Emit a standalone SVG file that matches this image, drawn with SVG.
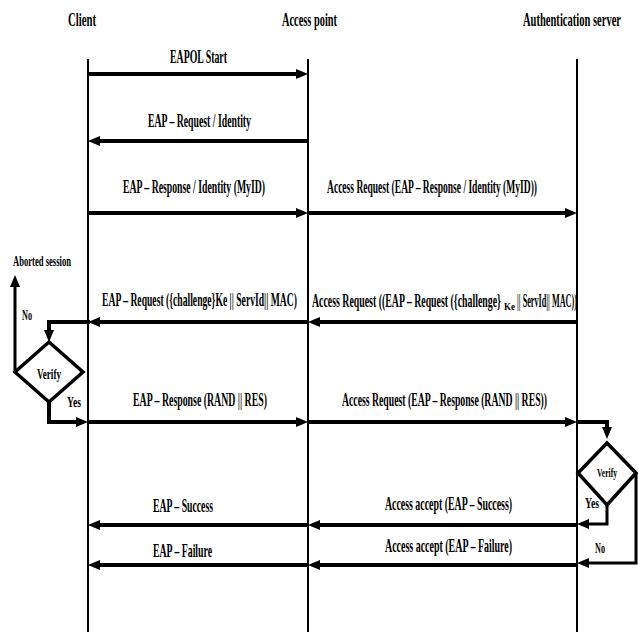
<svg xmlns="http://www.w3.org/2000/svg" width="638" height="632" viewBox="0 0 638 632">
<style>
text{font-family:"Liberation Serif","Times New Roman",serif;font-weight:bold;fill:#000;text-anchor:middle;font-size:18px}
.sm{font-size:14px}
.xs{font-size:12px}
.sub{font-size:10px;text-anchor:start}
.st{text-anchor:start}
.life{stroke:#000;stroke-width:2;fill:none}
.msg{stroke:#000;stroke-width:4;fill:none}
.flow{stroke:#000;stroke-width:3;fill:none}
.dia{stroke:#000;stroke-width:3.5;fill:#fff;stroke-linejoin:miter}
</style>
<defs>
<marker id="ah" viewBox="0 0 12 10" refX="5" refY="5" markerWidth="12" markerHeight="10" markerUnits="userSpaceOnUse" orient="auto">
<path d="M0,0 L12,5 L0,10 z" fill="#000"/>
</marker>
</defs>
<rect width="638" height="632" fill="#fff"/>

<g id="client">
<text transform="translate(82,26) scale(0.59,1)" textLength="47.5" lengthAdjust="spacingAndGlyphs">Client</text>
<line class="life" x1="88" y1="59" x2="88" y2="632"/>
</g>
<g id="access-point">
<text transform="translate(309.5,26) scale(0.59,1)" textLength="93.2" lengthAdjust="spacingAndGlyphs">Access point</text>
<line class="life" x1="308" y1="59" x2="308" y2="632"/>
</g>
<g id="auth-server">
<text transform="translate(572,26) scale(0.59,1)" textLength="166.1" lengthAdjust="spacingAndGlyphs">Authentication server</text>
<line class="life" x1="577" y1="59" x2="577" y2="632"/>
</g>

<g id="verify-client">
<polygon class="dia" points="49,342 83,372 49,402 15,372"/>
<text class="sm" transform="translate(49,379) scale(0.59,1)" textLength="40.7" lengthAdjust="spacingAndGlyphs">Verify</text>
</g>
<g id="verify-server">
<polygon class="dia" points="607,443 636,473 607,505 578,473"/>
<text class="xs" transform="translate(607,477) scale(0.59,1)" textLength="33.9" lengthAdjust="spacingAndGlyphs">Verify</text>
</g>
<g id="aborted-session">
<text class="sm" transform="translate(42,266) scale(0.59,1)" textLength="98.3" lengthAdjust="spacingAndGlyphs">Aborted session</text>
</g>

<g id="connectors">
<line class="msg" x1="88" y1="74" x2="301" y2="74" marker-end="url(#ah)"/>
<text transform="translate(198.5,63) scale(0.59,1)" textLength="96.6" lengthAdjust="spacingAndGlyphs">EAPOL Start</text>

<line class="msg" x1="308" y1="141" x2="95" y2="141" marker-end="url(#ah)"/>
<text transform="translate(199.5,127) scale(0.59,1)" textLength="174.6" lengthAdjust="spacingAndGlyphs">EAP – Request / Identity</text>

<line class="msg" x1="88" y1="213" x2="301" y2="213" marker-end="url(#ah)"/>
<text transform="translate(194,193) scale(0.59,1)" textLength="240.7" lengthAdjust="spacingAndGlyphs">EAP – Response / Identity (MyID)</text>
<line class="msg" x1="308" y1="213" x2="570" y2="213" marker-end="url(#ah)"/>
<text transform="translate(432,193) scale(0.59,1)" textLength="355.9" lengthAdjust="spacingAndGlyphs">Access Request (EAP – Response / Identity (MyID))</text>

<line class="msg" x1="577" y1="322" x2="315" y2="322" marker-end="url(#ah)"/>
<text class="st" transform="translate(312,307) scale(0.545,1)" textLength="346.6" lengthAdjust="spacingAndGlyphs">Access Request ((EAP – Request ({challenge}</text>
<text class="sub" transform="translate(504,310) scale(0.9,1)" textLength="12.2" lengthAdjust="spacingAndGlyphs">Ke</text>
<text class="st" transform="translate(517,307) scale(0.455,1)" textLength="131.8" lengthAdjust="spacingAndGlyphs">|| ServId|| MAC))</text>
<line class="msg" x1="308" y1="322" x2="95" y2="322" marker-end="url(#ah)"/>
<text transform="translate(199.5,306) scale(0.59,1)" textLength="330.5" lengthAdjust="spacingAndGlyphs">EAP – Request ({challenge}Ke || ServId|| MAC)</text>
<polyline class="msg" points="90,322 49,322 49,335" marker-end="url(#ah)"/>

<polyline class="flow" points="15,372 15,282" marker-end="url(#ah)"/>
<text class="sm" transform="translate(27,320) scale(0.59,1)" textLength="16.9" lengthAdjust="spacingAndGlyphs">No</text>

<polyline class="msg" points="49,402 49,422 81,422" marker-end="url(#ah)"/>
<text class="sm" transform="translate(74,407) scale(0.59,1)" textLength="23.7" lengthAdjust="spacingAndGlyphs">Yes</text>

<line class="msg" x1="88" y1="422" x2="301" y2="422" marker-end="url(#ah)"/>
<text transform="translate(200,406) scale(0.59,1)" textLength="227.1" lengthAdjust="spacingAndGlyphs">EAP – Response (RAND || RES)</text>
<line class="msg" x1="308" y1="422" x2="570" y2="422" marker-end="url(#ah)"/>
<text transform="translate(444.5,406) scale(0.59,1)" textLength="347.5" lengthAdjust="spacingAndGlyphs">Access Request (EAP – Response (RAND || RES))</text>
<polyline class="msg" points="577,422 607,422 607,432" marker-end="url(#ah)"/>

<polyline class="flow" points="607,505 607,524 584,524" marker-end="url(#ah)"/>
<text class="sm" transform="translate(592,508) scale(0.59,1)" textLength="23.7" lengthAdjust="spacingAndGlyphs">Yes</text>

<line class="msg" x1="577" y1="525" x2="315" y2="525" marker-end="url(#ah)"/>
<text transform="translate(448.5,510) scale(0.59,1)" textLength="215.3" lengthAdjust="spacingAndGlyphs">Access accept (EAP – Success)</text>
<line class="msg" x1="308" y1="525" x2="95" y2="525" marker-end="url(#ah)"/>
<text transform="translate(183,512) scale(0.59,1)" textLength="101.7" lengthAdjust="spacingAndGlyphs">EAP – Success</text>

<polyline class="flow" points="636,473 636,563 584,563" marker-end="url(#ah)"/>
<text class="sm" transform="translate(600,553) scale(0.59,1)" textLength="16.9" lengthAdjust="spacingAndGlyphs">No</text>

<line class="msg" x1="577" y1="565" x2="315" y2="565" marker-end="url(#ah)"/>
<text transform="translate(448.5,552) scale(0.59,1)" textLength="215.3" lengthAdjust="spacingAndGlyphs">Access accept (EAP – Failure)</text>
<line class="msg" x1="308" y1="565" x2="95" y2="565" marker-end="url(#ah)"/>
<text transform="translate(182.5,557) scale(0.59,1)" textLength="100" lengthAdjust="spacingAndGlyphs">EAP – Failure</text>
</g>
</svg>
